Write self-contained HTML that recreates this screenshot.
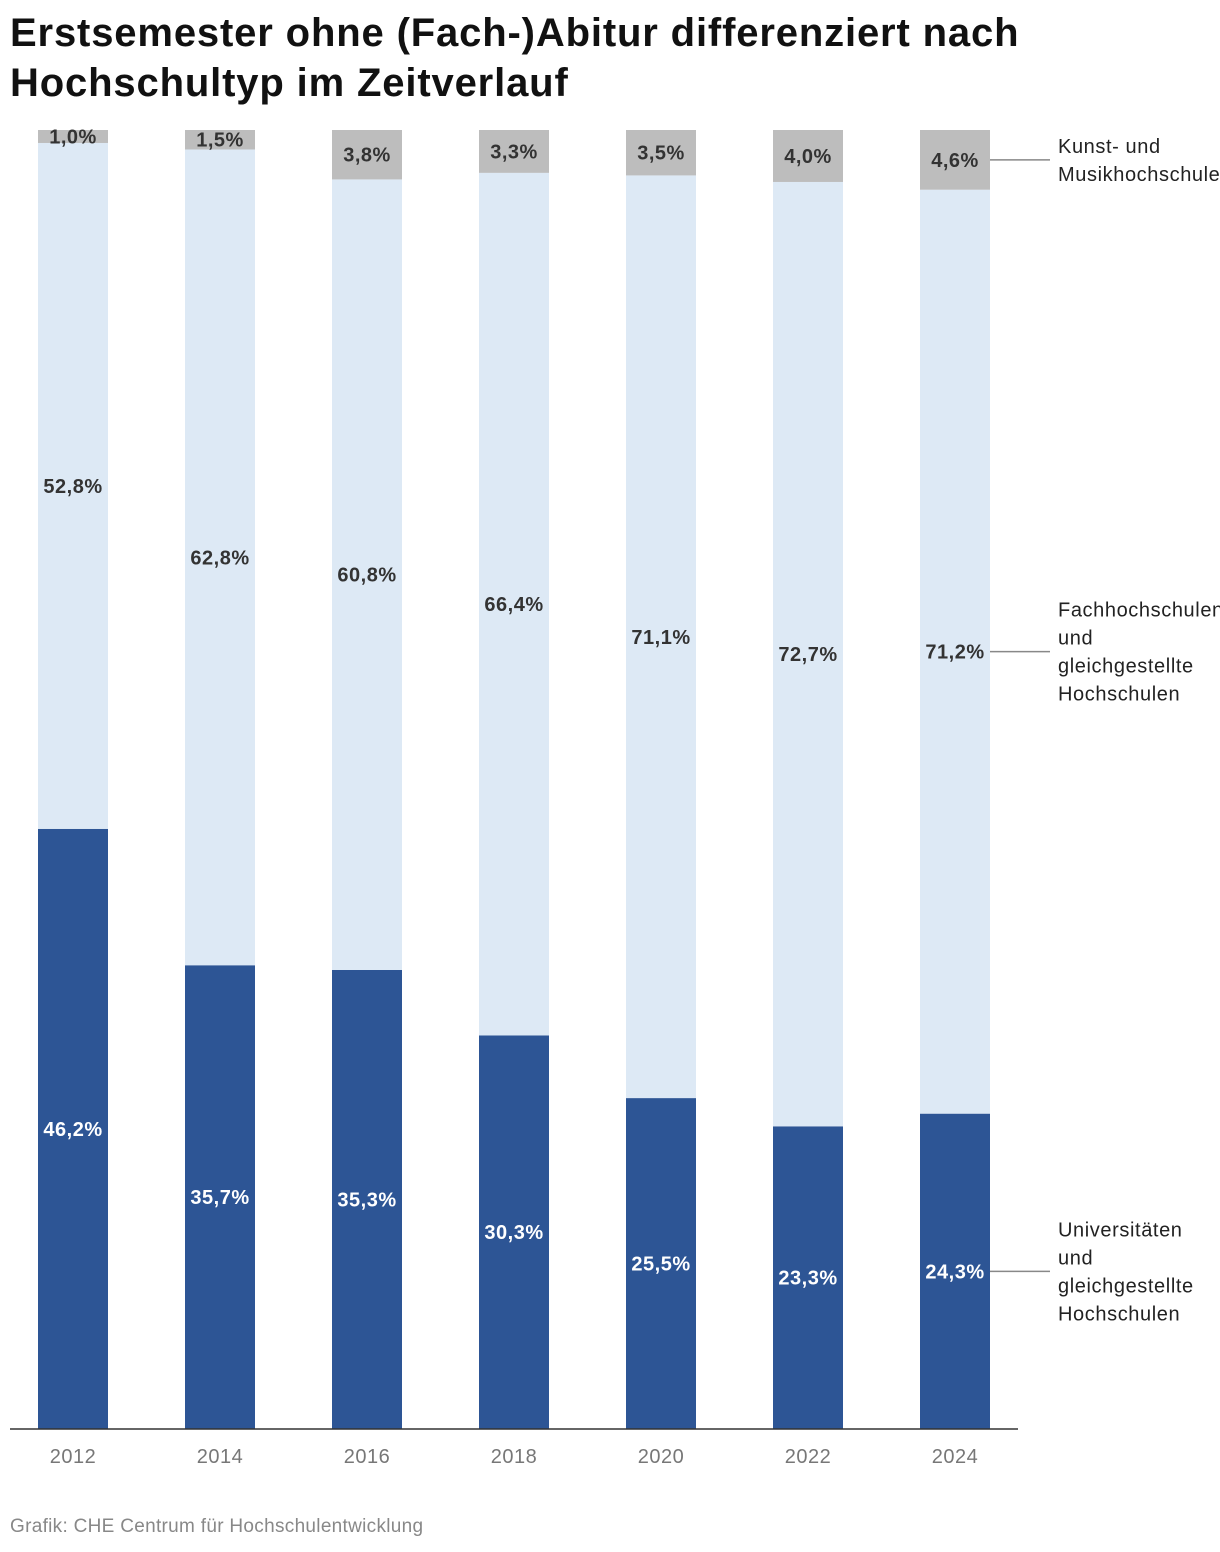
<!DOCTYPE html>
<html><head><meta charset="utf-8">
<style>
html,body{margin:0;padding:0;background:#fff;}
body{width:1220px;height:1552px;overflow:hidden;position:relative;font-family:"Liberation Sans",sans-serif;}
h1{position:absolute;left:10px;top:8px;margin:0;font-size:40px;line-height:50px;font-weight:bold;color:#111;letter-spacing:0.85px;white-space:nowrap;}
.foot{position:absolute;left:10px;top:1516px;font-size:19px;color:#888;letter-spacing:0.3px;}
svg{position:absolute;left:0;top:0;}
</style></head><body>
<h1>Erstsemester ohne (Fach-)Abitur differenziert nach<br>Hochschultyp im Zeitverlauf</h1>
<svg id="chart" width="1220" height="1552"></svg>
<div class="foot">Grafik: CHE Centrum für Hochschulentwicklung</div>
<script>
const years = ["2012","2014","2016","2018","2020","2022","2024"];
const uni = [46.2,35.7,35.3,30.3,25.5,23.3,24.3];
const fh = [52.8,62.8,60.8,66.4,71.1,72.7,71.2];
const kunst = [1.0,1.5,3.8,3.3,3.5,4.0,4.6];
const seriesNames = [["Universitäten","und","gleichgestellte","Hochschulen"],["Fachhochschulen","und","gleichgestellte","Hochschulen"],["Kunst- und","Musikhochschulen"]];

const NS="http://www.w3.org/2000/svg";
const svg=document.getElementById('chart');
const top0=130, base=1429, x0=73, step=147, bw=70;
const yS=(v,tot)=>base-(base-top0)*v/tot;
const xc=i=>x0+i*step;
const fmt=v=>v.toFixed(1).replace('.',',')+'%';
function el(t,a){const e=document.createElementNS(NS,t);for(const k in a)e.setAttribute(k,a[k]);svg.appendChild(e);return e;}
const colors=["#2d5595","#dde9f5","#bdbdbd"];
const series=[uni,fh,kunst];
const segNames=['bar-uni','bar-fh','bar-kunst'];
years.forEach((yr,i)=>{
  const tot=uni[i]+fh[i]+kunst[i];
  const y=v=>yS(v,tot);
  let cum=0;
  series.forEach((s,k)=>{
    const v=s[i];
    const r=el('rect',{x:xc(i)-bw/2,y:y(cum+v),width:bw,height:y(cum)-y(cum+v),fill:colors[k]});
    
    
    const t=el('text',{x:xc(i),y:(y(cum)+y(cum+v))/2+7,'text-anchor':'middle','font-size':20,'font-weight':'bold','letter-spacing':'0.5',fill:k==0?'#fff':'#333'});
    t.textContent=fmt(v);
    
    
    cum+=v;
  });
  const yl=el('text',{x:xc(i),y:1463,'text-anchor':'middle','font-size':20,'letter-spacing':'0.5',fill:'#777'});
  yl.textContent=yr;
  
  
});
const ax=el('line',{x1:10,x2:1018,y1:base,y2:base,stroke:'#333','stroke-width':1.5});


const last=years.length-1;
const totL=uni[last]+fh[last]+kunst[last];
let cum=0;
series.forEach((s,k)=>{
  const mid=(yS(cum,totL)+yS(cum+s[last],totL))/2;
  cum+=s[last];
  const ln=el('line',{x1:xc(last)+bw/2,x2:1050,y1:mid,y2:mid,stroke:'#888','stroke-width':1.5});
  
  
  const lines=seriesNames[k];
  const t=el('text',{x:1058,y:mid-(lines.length-1)*14+7,'font-size':20,'letter-spacing':'0.6',fill:'#222'});
  
  
  lines.forEach((l,j)=>{const ts=document.createElementNS(NS,'tspan');ts.setAttribute('x',1058);ts.setAttribute('dy',j?28:0);ts.textContent=l;t.appendChild(ts);});
});
</script>
</body></html>
